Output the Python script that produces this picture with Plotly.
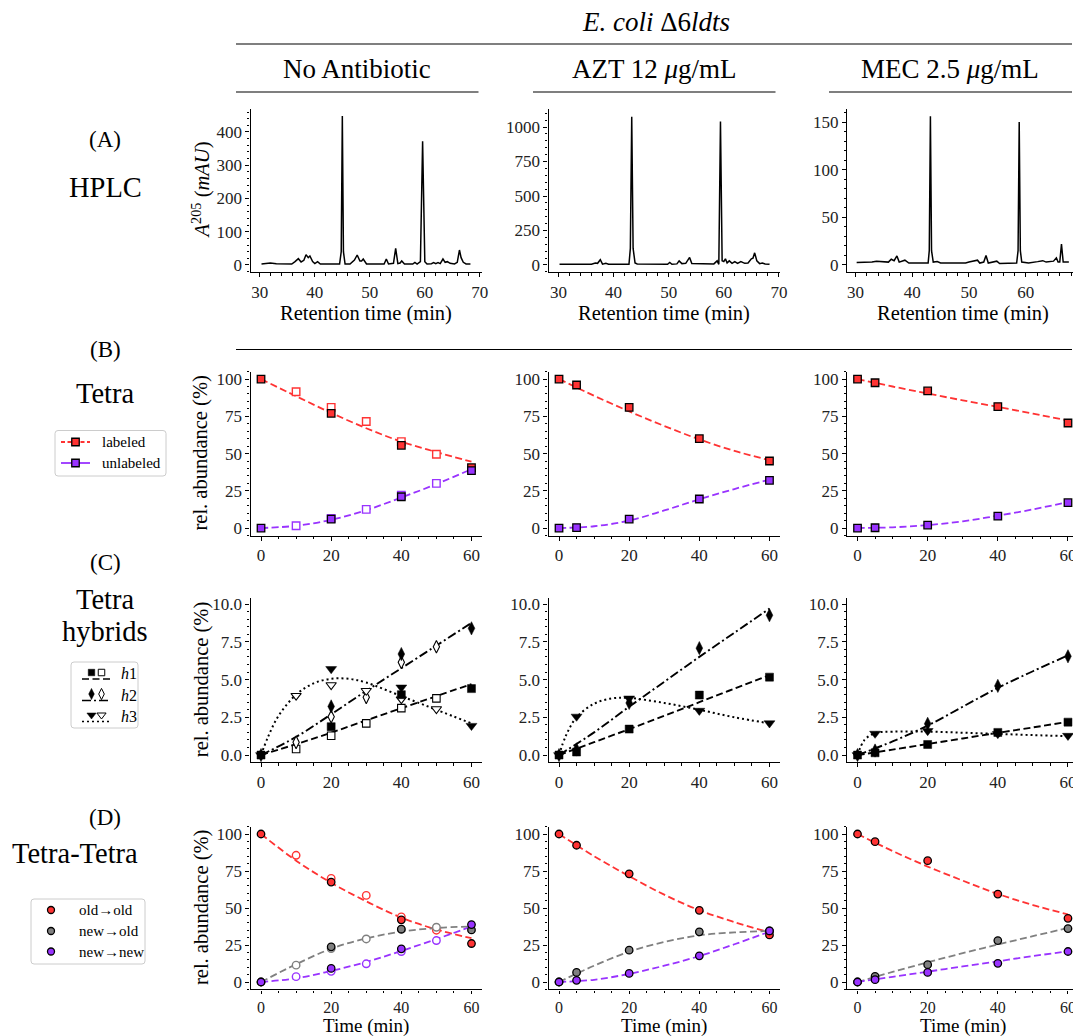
import plotly.graph_objects as go

FONT = "Liberation Serif"
W, H = 1081, 1036
OFF = 8  # page body margin in the browser

# ---------------- DATA ----------------
# (A) HPLC chromatograms (retention time in min, A205 in mAU)
hplc_noab_t = [30.3, 31.2, 31.9, 33.0, 35.0, 35.8, 36.4, 37.0, 37.5, 38.0, 38.4, 38.8, 39.1, 39.6, 40.0,
               40.5, 41.0, 42.0, 44.5, 44.8, 45.0, 45.2, 45.5, 46.4, 47.2, 47.7, 48.2, 48.5, 48.8, 49.4,
               51.5, 52.6, 53.0, 53.4, 54.3, 54.7, 55.1, 55.5, 55.8, 56.3, 57.8, 58.2, 58.6, 59.2, 59.6,
               60.0, 60.4, 61.2, 61.6, 62.0, 62.4, 62.8, 63.3, 63.7, 64.1, 64.6, 65.4, 65.9, 66.3, 66.6,
               67.0, 67.5, 68.3]
hplc_noab_a = [3, 5, 6, 4, 3, 3, 10, 19, 9, 14, 31, 22, 27, 10, 4,
               10, 3, 3, 3, 40, 448, 40, 3, 3, 15, 30, 12, 12, 18, 3,
               3, 3, 18, 3, 5, 50, 4, 6, 12, 3, 3, 8, 3, 10, 372,
               10, 3, 4, 7, 4, 7, 4, 18, 8, 10, 5, 3, 8, 45, 22,
               8, 3, 3]
hplc_azt_t = [30.2, 36.0, 36.7, 37.1, 37.6, 38.0, 38.6, 39.1, 42.8, 43.05, 43.3, 43.55, 43.9, 44.3,
              49.8, 50.2, 50.6, 51.5, 51.9, 52.4, 53.1, 53.8, 54.2, 56.0, 56.6, 58.2, 58.8, 59.1, 59.4,
              59.7, 60.0, 60.3, 60.6, 61.0, 61.5, 62.0, 62.5, 63.1, 63.8, 64.4, 65.0, 65.3, 65.6, 66.0,
              66.5, 67.0, 67.5, 68.3]
hplc_azt_a = [5, 5, 14, 12, 38, 6, 12, 5, 5, 120, 1075, 120, 15, 8,
              5, 18, 5, 8, 30, 10, 12, 55, 10, 8, 12, 8, 30, 5, 1040,
              30, 25, 45, 15, 30, 12, 25, 12, 25, 12, 15, 45, 50, 88, 30,
              10, 15, 8, 5]
hplc_mec_t = [30.2, 32.9, 33.7, 35.8, 36.3, 36.8, 37.3, 37.7, 38.7, 39.4, 42.8, 43.0, 43.2, 43.4, 43.7,
              44.4, 45.0, 49.4, 50.0, 51.5, 51.9, 52.6, 53.0, 53.4, 54.9, 55.4, 58.4, 58.65, 58.85, 59.05,
              59.3, 60.5, 62.1, 63.0, 63.6, 64.9, 65.4, 65.7, 66.0, 66.3, 66.6, 67.0, 67.6]
hplc_mec_a = [2.5, 3, 4, 3, 6, 4.5, 9.5, 3, 5, 2, 2, 15, 156, 15, 3,
              3.5, 2, 2, 3, 5, 2, 3, 10, 2, 4, 1.5, 2, 15, 150, 15,
              3, 2, 3.5, 4.5, 3, 4, 7.5, 3, 3, 22, 3, 3, 3]

# time points (min)
t_noab = [0, 20, 40, 60]
t_noab_open = [10, 20, 30, 40, 50]
t_drug = [0, 5, 20, 40, 60]
t_fit = [0, 10, 20, 30, 40, 50, 60]

# (B) Tetra: labeled / unlabeled (%)
lab_noab = [100, 77, 55.5, 40.5]
lab_noab_open = [91.5, 81, 71.5, 58, 49.5]
lab_noab_fit = [100, 88.5, 77.3, 67, 58, 51, 44.5]
unl_noab = [0, 6, 21, 38.5]
unl_noab_open = [1.5, 6.5, 12.5, 22, 30]
unl_noab_fit = [0, 1.5, 5.5, 12, 20.5, 29.5, 39.5]
lab_azt = [100, 96, 81, 60, 45]
lab_azt_fit = [100, 88.8, 78.3, 68.5, 59.5, 51.8, 45.5]
unl_azt = [0, 0.3, 6, 19.5, 32]
unl_azt_fit = [0, 1.2, 5, 11.8, 19.3, 26.2, 32.5]
lab_mec = [100, 97.5, 92, 81.5, 70.5]
lab_mec_fit = [100, 95, 90.3, 85.7, 81.3, 76.8, 72.2]
unl_mec = [0, 0.2, 2, 8, 17]
unl_mec_fit = [0, 0.5, 2, 4.5, 8.3, 12.5, 17.5]

# (C) Tetra hybrids h1, h2, h3 (%)
h1_noab = [0, 1.88, 4.0, 4.4]
h1_noab_open = [0.4, 1.28, 2.1, 3.11, 3.75]
h1_noab_fit = [0, 0.72, 1.48, 2.3, 3.1, 3.9, 4.7]
h2_noab = [0, 3.22, 6.69, 8.39]
h2_noab_open = [0.84, 2.54, 3.82, 6.14, 7.17]
h2_noab_fit = [0, 1.2, 2.7, 4.25, 5.75, 7.25, 8.75]
h3_noab = [0, 5.7, 4.48, 1.94]
h3_noab_open = [3.93, 4.64, 4.26, 3.7, 3.05]
t_h3_noab_fit = [0, 2, 5, 10, 15, 20, 25, 30, 40, 50, 60]
h3_noab_fit = [0, 1.2, 2.6, 4.0, 4.75, 5.05, 5.05, 4.8, 3.9, 3.0, 2.1]

h1_azt = [0, 0.2, 1.72, 3.97, 5.16]
h1_azt_fit = [0, 0.85, 1.72, 2.6, 3.5, 4.4, 5.3]
h2_azt = [0, 0.37, 3.45, 7.08, 9.26]
h2_azt_fit = [0, 1.5, 3.2, 4.85, 6.5, 8.1, 9.7]
h3_azt = [0, 2.55, 3.75, 2.94, 2.11]
t_h3_azt_fit = [0, 2, 5, 10, 15, 20, 30, 40, 50, 60]
h3_azt_fit = [0, 1.3, 2.5, 3.4, 3.75, 3.78, 3.45, 3.0, 2.5, 2.1]

h1_mec = [0, 0.15, 0.7, 1.5, 2.18]
h1_mec_fit = [0, 0.36, 0.73, 1.1, 1.47, 1.83, 2.2]
h2_mec = [0, 0.3, 2.07, 4.58, 6.54]
h2_mec_fit = [0, 0.9, 1.95, 3.2, 4.45, 5.55, 6.6]
h3_mec = [0, 1.42, 1.6, 1.4, 1.28]
t_h3_mec_fit = [0, 2, 5, 10, 20, 30, 40, 50, 60]
h3_mec_fit = [0, 1.0, 1.45, 1.55, 1.55, 1.48, 1.4, 1.32, 1.25]

# (D) Tetra-Tetra: old->old, new->old, new->new (%)
oo_noab = [100, 67.5, 42, 26]
oo_noab_open = [85.6, 70, 58.5, 44, 35]
oo_noab_fit = [100, 82, 67, 54.5, 43.5, 35.5, 29.6]
no_noab = [0, 23.8, 35.7, 35.2]
no_noab_open = [11.4, 22.6, 29.1, 35.5, 37]
no_noab_fit = [0, 12, 22.5, 29.5, 34, 36.5, 37.5]
nn_noab = [0, 9.2, 22.4, 38.8]
nn_noab_open = [3.6, 7.2, 12.3, 20.6, 28]
nn_noab_fit = [0, 2.5, 7.5, 13.5, 21, 29, 37.5]

oo_azt = [100, 92.4, 73.1, 48.4, 31.8]
oo_azt_fit = [100, 85, 71.5, 59, 48.5, 40.5, 33.5]
no_azt = [0, 6.5, 21.5, 33.9, 34.5]
no_azt_fit = [0, 11, 20.5, 27, 31.5, 33.5, 34.5]
nn_azt = [0, 1.1, 5.8, 17.7, 34.5]
nn_azt_fit = [0, 1.5, 5.5, 11, 17.5, 25.5, 34]

oo_mec = [100, 94.8, 82, 59.4, 43]
oo_mec_fit = [100, 88.5, 78, 68.5, 59.5, 52, 45.7]
no_mec = [0, 3.8, 11.7, 28, 36.1]
no_mec_fit = [0, 6.8, 13.3, 19.5, 25.3, 31, 36.5]
nn_mec = [0, 1.6, 6.5, 12.6, 20.6]
nn_mec_fit = [0, 3.5, 7, 10.5, 14, 17.5, 20.8]

# ---------------- STYLE / LAYOUT ----------------
RED = "#ff3333"
PURPLE = "#9933ff"
GRAY = "#808080"
DASH = "7px,3.5px"
DASHDOT = "9px,3px,2px,3px"
DOT = "2px,3px"

col_px = [(250.5, 482.0), (548.5, 780.0), (847.0, 1078.5)]
row_px = [(108.7, 272.3), (371.6, 535.5), (598.0, 762.3), (826.6, 989.4)]

FW, FH = W - OFF, H - OFF

fig = go.Figure()


def ax_name(n):
    return ("x", "y") if n == 1 else (f"x{n}", f"y{n}")


def pid(r, c):
    return r * 3 + c + 1


def line(n, x, y, color, dash, width=1.8, shape="spline"):
    xa, ya = ax_name(n)
    fig.add_trace(go.Scatter(x=x, y=y, xaxis=xa, yaxis=ya, mode="lines", showlegend=False,
                             hoverinfo="skip",
                             line=dict(color=color, dash=dash, width=width, shape=shape)))


def marks(n, x, y, symbol, size, fill, edge, ew=1.2):
    xa, ya = ax_name(n)
    fig.add_trace(go.Scatter(x=x, y=y, xaxis=xa, yaxis=ya, mode="markers", showlegend=False,
                             hoverinfo="skip",
                             marker=dict(symbol=symbol, size=size, color=fill,
                                         line=dict(color=edge, width=ew))))


# Row A: HPLC
for c, (tt, aa) in enumerate([(hplc_noab_t, hplc_noab_a), (hplc_azt_t, hplc_azt_a), (hplc_mec_t, hplc_mec_a)]):
    line(pid(0, c), tt, aa, "black", "solid", width=1.5, shape="linear")

# Row B: Tetra
n = pid(1, 0)
line(n, t_fit, lab_noab_fit, RED, DASH)
line(n, t_fit, unl_noab_fit, PURPLE, DASH)
marks(n, t_noab_open, lab_noab_open, "square", 7.5, "white", RED, 1.4)
marks(n, t_noab_open, unl_noab_open, "square", 7.5, "white", PURPLE, 1.4)
marks(n, t_noab, lab_noab, "square", 7.5, RED, "black", 1.3)
marks(n, t_noab, unl_noab, "square", 7.5, PURPLE, "black", 1.3)
for c, (lab, labf, unl, unlf) in enumerate([(lab_azt, lab_azt_fit, unl_azt, unl_azt_fit),
                                              (lab_mec, lab_mec_fit, unl_mec, unl_mec_fit)], start=1):
    n = pid(1, c)
    line(n, t_fit, labf, RED, DASH)
    line(n, t_fit, unlf, PURPLE, DASH)
    marks(n, t_drug, lab, "square", 7.5, RED, "black", 1.3)
    marks(n, t_drug, unl, "square", 7.5, PURPLE, "black", 1.3)

# Row C: hybrids
n = pid(2, 0)
line(n, t_fit, h1_noab_fit, "black", DASH, 1.9)
line(n, t_fit, h2_noab_fit, "black", DASHDOT, 1.9)
line(n, t_h3_noab_fit, h3_noab_fit, "black", DOT, 2.0)
marks(n, t_noab_open, h1_noab_open, "square", 7.5, "white", "black", 1.1)
marks(n, t_noab_open, h2_noab_open, "diamond-tall", 9, "white", "black", 1.1)
marks(n, t_noab_open, h3_noab_open, "triangle-down", 9, "white", "black", 1.1)
marks(n, t_noab, h1_noab, "square", 8, "black", "black", 0.5)
marks(n, t_noab, h2_noab, "diamond-tall", 9.5, "black", "black", 0.5)
marks(n, t_noab, h3_noab, "triangle-down", 9.5, "black", "black", 0.5)
for c, (a1, f1, a2, f2, a3, t3, f3) in enumerate([
        (h1_azt, h1_azt_fit, h2_azt, h2_azt_fit, h3_azt, t_h3_azt_fit, h3_azt_fit),
        (h1_mec, h1_mec_fit, h2_mec, h2_mec_fit, h3_mec, t_h3_mec_fit, h3_mec_fit)], start=1):
    n = pid(2, c)
    line(n, t_fit, f1, "black", DASH, 1.9)
    line(n, t_fit, f2, "black", DASHDOT, 1.9)
    line(n, t3, f3, "black", DOT, 2.0)
    marks(n, t_drug, a1, "square", 8, "black", "black", 0.5)
    marks(n, t_drug, a2, "diamond-tall", 9.5, "black", "black", 0.5)
    marks(n, t_drug, a3, "triangle-down", 9.5, "black", "black", 0.5)

# Row D: Tetra-Tetra
n = pid(3, 0)
line(n, t_fit, oo_noab_fit, RED, DASH)
line(n, t_fit, no_noab_fit, GRAY, DASH)
line(n, t_fit, nn_noab_fit, PURPLE, DASH)
marks(n, t_noab_open, oo_noab_open, "circle", 7.5, "white", RED, 1.4)
marks(n, t_noab_open, no_noab_open, "circle", 7.5, "white", GRAY, 1.4)
marks(n, t_noab_open, nn_noab_open, "circle", 7.5, "white", PURPLE, 1.4)
marks(n, t_noab, oo_noab, "circle", 7.5, RED, "black", 1.3)
marks(n, t_noab, no_noab, "circle", 7.5, GRAY, "black", 1.3)
marks(n, t_noab, nn_noab, "circle", 7.5, PURPLE, "black", 1.3)
for c, (oo, oof, no, nof, nn, nnf) in enumerate([
        (oo_azt, oo_azt_fit, no_azt, no_azt_fit, nn_azt, nn_azt_fit),
        (oo_mec, oo_mec_fit, no_mec, no_mec_fit, nn_mec, nn_mec_fit)], start=1):
    n = pid(3, c)
    line(n, t_fit, oof, RED, DASH)
    line(n, t_fit, nof, GRAY, DASH)
    line(n, t_fit, nnf, PURPLE, DASH)
    marks(n, t_drug, oo, "circle", 7.5, RED, "black", 1.3)
    marks(n, t_drug, no, "circle", 7.5, GRAY, "black", 1.3)
    marks(n, t_drug, nn, "circle", 7.5, PURPLE, "black", 1.3)

# ---------------- AXES ----------------
tickfont = dict(family=FONT, size=17, color="#222222")
layout_axes = {}


def axis_cfg(dom, rng, dtick, minor, fmt=None, font=tickfont, ticklen=4):
    d = dict(domain=dom, range=rng, showline=True, linecolor="black", linewidth=1.2,
             ticks="outside", ticklen=ticklen, tickwidth=1.1, tickcolor="black",
             tick0=0, dtick=dtick, showgrid=False, zeroline=False, automargin=False,
             tickfont=font, fixedrange=True,
             minor=dict(ticks="outside", ticklen=2.3, tickwidth=0.9, tickcolor="black",
                        tick0=0, dtick=minor, showgrid=False))
    if fmt:
        d["tickformat"] = fmt
    return d


def xdom(a, b):
    return [(a - OFF) / FW, (b - OFF) / FW]


def ydom(top, bottom):
    return [1 - (bottom - OFF) / FH, 1 - (top - OFF) / FH]


hplc_x_ranges = [[28.3, 70.4], [28.2, 70.2], [28.5, 69.3]]
hplc_y = [([-22, 470], 100, 20), ([-53, 1133], 250, 50), ([-7.7, 164], 50, 10)]
bottom_font = dict(family=FONT, size=16, color="#222222")
for r in range(4):
    for c in range(3):
        n = pid(r, c)
        xd = xdom(*col_px[c])
        yd = ydom(*row_px[r])
        if r == 0:
            xa = axis_cfg(xd, hplc_x_ranges[c], 10, 2)
            ya = axis_cfg(yd, hplc_y[c][0], hplc_y[c][1], hplc_y[c][2])
        elif r == 2:
            xa = axis_cfg(xd, [-3, 63], 20, 5)
            ya = axis_cfg(yd, [-0.48, 10.4], 2.5, 0.5, ".1f")
        elif r == 3:
            xa = axis_cfg(xd, [-3, 63], 20, 5, font=bottom_font, ticklen=3.5)
            ya = axis_cfg(yd, [-5, 105], 25, 5)
        else:
            xa = axis_cfg(xd, [-3, 63], 20, 5)
            ya = axis_cfg(yd, [-5, 105], 25, 5)
        xk, yk = ax_name(n)
        xa["anchor"] = yk
        ya["anchor"] = xk
        layout_axes["xaxis" if n == 1 else f"xaxis{n}"] = xa
        layout_axes["yaxis" if n == 1 else f"yaxis{n}"] = ya

# overlay axis in page-pixel units for decorations / legends
layout_axes["xaxis13"] = dict(domain=[0, 1], range=[OFF, W], visible=False, anchor="y13", fixedrange=True)
layout_axes["yaxis13"] = dict(domain=[0, 1], range=[H, OFF], visible=False, anchor="x13", fixedrange=True)

annotations = []
shapes = []


def text(x, y, s, size, xanchor="center", angle=0, color="black"):
    annotations.append(dict(x=x, y=y, xref="x13", yref="y13", text=s, showarrow=False,
                            xanchor=xanchor, yanchor="middle", textangle=angle,
                            font=dict(family=FONT, size=size, color=color)))


def hline(x0, x1, y, w=1.2):
    shapes.append(dict(type="line", xref="x13", yref="y13", x0=x0, x1=x1, y0=y, y1=y,
                       line=dict(color="black", width=w)))


def rbox(x0, y0, x1, y1, rad=3):
    p = (f"M {x0+rad},{y0} L {x1-rad},{y0} Q {x1},{y0} {x1},{y0+rad} L {x1},{y1-rad} "
         f"Q {x1},{y1} {x1-rad},{y1} L {x0+rad},{y1} Q {x0},{y1} {x0},{y1-rad} "
         f"L {x0},{y0+rad} Q {x0},{y0} {x0+rad},{y0} Z")
    shapes.append(dict(type="path", xref="x13", yref="y13", path=p, fillcolor="white",
                       line=dict(color="#cccccc", width=1), layer="below"))


# header
text(656, 22, "<i>E. coli</i> Δ6<i>ldts</i>", 27)
hline(236, 1072, 44)
text(357, 69, "No Antibiotic", 27)
text(654, 69, "AZT 12 <i>μ</i>g/mL", 27)
text(950, 69, "MEC 2.5 <i>μ</i>g/mL", 27)
hline(236, 478.5, 92)
hline(533, 775.5, 92)
hline(829, 1072, 92)
hline(236, 1072, 349.5)

# row labels
text(105, 139, "(A)", 23)
text(105, 187, "HPLC", 28.5)
text(105, 349, "(B)", 23)
text(105, 393, "Tetra", 28.5)
text(105, 562, "(C)", 23)
text(105, 599, "Tetra", 28.5)
text(105, 631, "hybrids", 28.5)
text(105, 817, "(D)", 23)
text(75, 853, "Tetra-Tetra", 28.5)

# axis titles
text(201, (row_px[0][0] + row_px[0][1]) / 2, "<i>A</i><sup>205</sup> (<i>mAU</i>)", 20.5, angle=-90)
for r in (1, 2, 3):
    text(201, (row_px[r][0] + row_px[r][1]) / 2, "rel. abundance (%)", 20.5, angle=-90)
for c in range(3):
    cx = (col_px[c][0] + col_px[c][1]) / 2
    text(cx, 313, "Retention time (min)", 20.5)
    text(cx, 1025.5, "Time (min)", 19)

# legends (drawn on pixel overlay axis)
L = 13
rbox(55, 430.5, 166, 476)
line(L, [61, 90], [442, 442], RED, "4px,2.5px", 1.8, "linear")
marks(L, [75.5], [442], "square", 7.5, RED, "black", 1.3)
text(100, 442, "labeled", 15, "left")
line(L, [61, 90], [463, 463], PURPLE, "solid", 1.8, "linear")
marks(L, [75.5], [463], "square", 7.5, PURPLE, "black", 1.3)
text(100, 463, "unlabeled", 15, "left")

rbox(71, 662, 138, 728)
leg_c = [(673.5, "square", 6.5, DASH, "<i>h</i>1"),
         (695, "diamond-tall", 8, DASHDOT, "<i>h</i>2"),
         (716, "triangle-down", 8, DOT, "<i>h</i>3")]
for yy, sym, sz, dsh, lbl in leg_c:
    line(L, [82, 111], [yy + 5.5, yy + 5.5], "black", dsh, 1.7, "linear")
    marks(L, [91.5], [yy - 1], sym, sz, "black", "black", 0.5)
    marks(L, [101.5], [yy - 1], sym, sz, "white", "black", 1.0)
    text(118.5, yy, lbl, 16, "left")

rbox(31, 899, 145, 964)
for yy, colr, lbl in [(910, RED, "old→old"), (931, GRAY, "new→old"), (951.5, PURPLE, "new→new")]:
    marks(L, [51], [yy], "circle", 7, colr, "black", 1.3)
    text(76.5, yy, lbl, 15, "left")

fig.update_layout(width=FW, height=FH, margin=dict(l=0, r=0, t=0, b=0),
                  paper_bgcolor="white", plot_bgcolor="rgba(0,0,0,0)",
                  showlegend=False, annotations=annotations, shapes=shapes,
                  font=dict(family=FONT), **layout_axes)

fig.write_html("out.html")
